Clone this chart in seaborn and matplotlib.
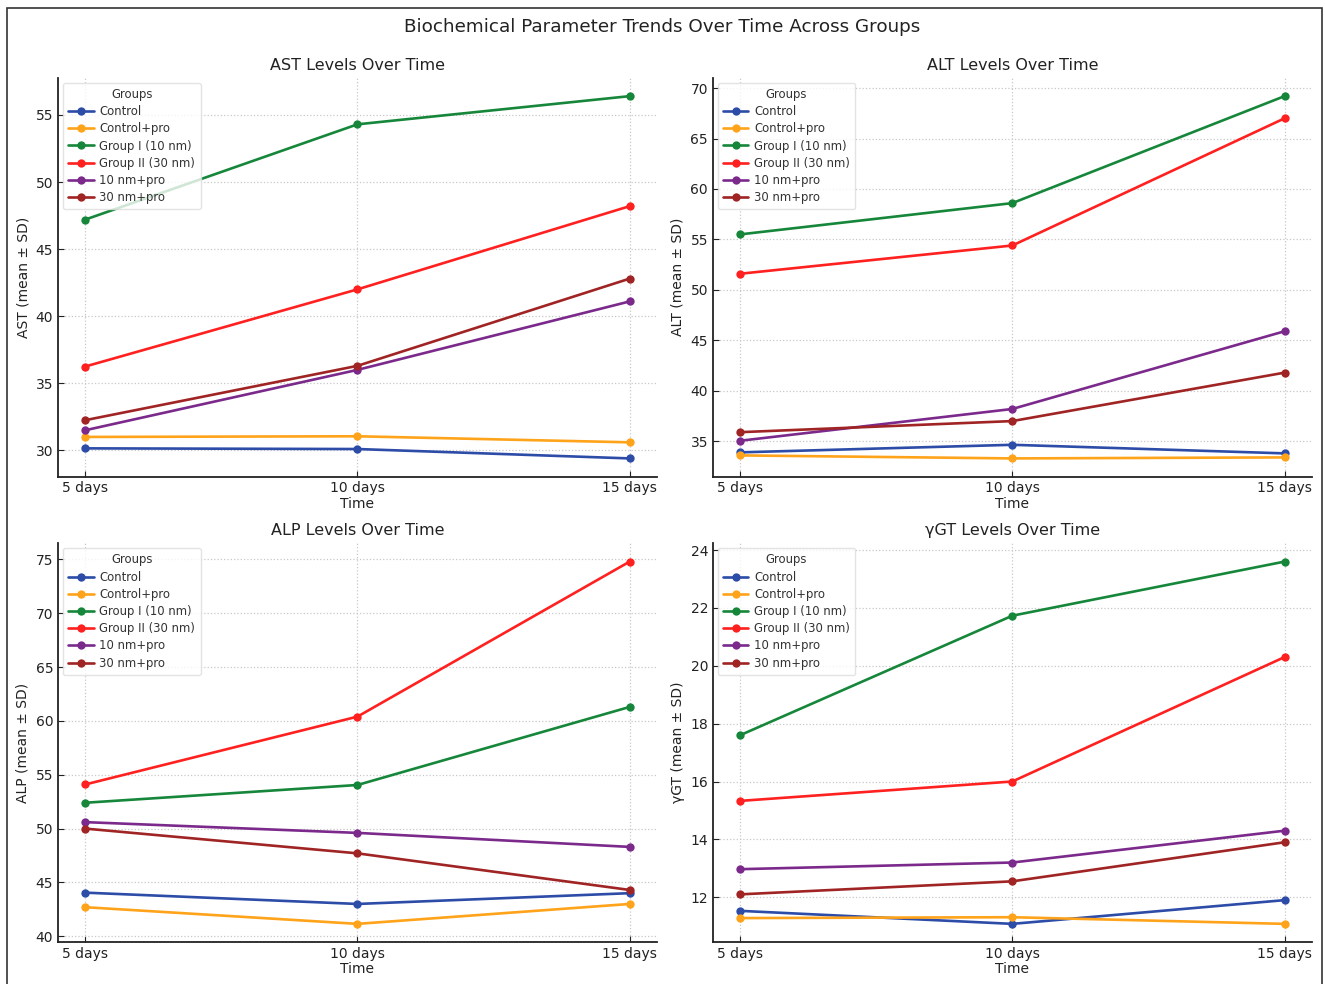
import matplotlib
matplotlib.use("Agg")
import matplotlib.pyplot as plt
import seaborn as sns
import pandas as pd
from matplotlib.patches import Rectangle

# ---- data ----
times = ["5 days", "10 days", "15 days"]
groups = ["Control", "Control+pro", "Group I (10 nm)", "Group II (30 nm)", "10 nm+pro", "30 nm+pro"]

ast_vals = {
    "Control": [30.15, 30.1, 29.4],
    "Control+pro": [31.0, 31.05, 30.6],
    "Group I (10 nm)": [47.2, 54.3, 56.4],
    "Group II (30 nm)": [36.25, 42.0, 48.2],
    "10 nm+pro": [31.5, 36.0, 41.1],
    "30 nm+pro": [32.25, 36.3, 42.8],
}
alt_vals = {
    "Control": [33.9, 34.65, 33.8],
    "Control+pro": [33.6, 33.3, 33.4],
    "Group I (10 nm)": [55.5, 58.6, 69.2],
    "Group II (30 nm)": [51.6, 54.4, 67.0],
    "10 nm+pro": [35.05, 38.2, 45.9],
    "30 nm+pro": [35.9, 37.0, 41.8],
}
alp_vals = {
    "Control": [44.05, 43.0, 44.0],
    "Control+pro": [42.7, 41.15, 43.0],
    "Group I (10 nm)": [52.4, 54.05, 61.3],
    "Group II (30 nm)": [54.1, 60.4, 74.8],
    "10 nm+pro": [50.6, 49.6, 48.3],
    "30 nm+pro": [50.0, 47.7, 44.3],
}
ggt_vals = {
    "Control": [11.53, 11.08, 11.9],
    "Control+pro": [11.28, 11.31, 11.08],
    "Group I (10 nm)": [17.6, 21.73, 23.6],
    "Group II (30 nm)": [15.33, 16.0, 20.3],
    "10 nm+pro": [12.97, 13.2, 14.3],
    "30 nm+pro": [12.1, 12.55, 13.9],
}

panels = [
    ("AST Levels Over Time", "AST (mean ± SD)", ast_vals),
    ("ALT Levels Over Time", "ALT (mean ± SD)", alt_vals),
    ("ALP Levels Over Time", "ALP (mean ± SD)", alp_vals),
    ("γGT Levels Over Time", "γGT (mean ± SD)", ggt_vals),
]

palette = {
    "Control": "#2c4ca8",
    "Control+pro": "#ffa31a",
    "Group I (10 nm)": "#16873a",
    "Group II (30 nm)": "#ff2020",
    "10 nm+pro": "#7b2a8c",
    "30 nm+pro": "#a02424",
}

sns.set_style("ticks")
plt.rcParams["font.family"] = ["DejaVu Sans"]

fig, axes = plt.subplots(2, 2, figsize=(13.25, 9.84), dpi=100)
fig.subplots_adjust(left=0.0438, right=0.990, top=0.9207, bottom=0.0427,
                    wspace=0.0935, hspace=0.168)

for ax, (title, ylabel, vals) in zip(axes.flat, panels):
    rows = []
    for g in groups:
        for t, v in zip(times, vals[g]):
            rows.append({"Time": t, "Value": v, "Group": g})
    df = pd.DataFrame(rows)
    sns.lineplot(data=df, x="Time", y="Value", hue="Group", hue_order=groups,
                 palette=palette, marker="o", markersize=6, markeredgewidth=0,
                 linewidth=1.9, ax=ax, sort=False)
    ax.set_title(title, fontsize=11.5, color="#222222")
    ax.set_xlabel("Time", fontsize=10, color="#222222", labelpad=1)
    ax.set_ylabel(ylabel, fontsize=10, color="#222222")
    ax.grid(True, linestyle=":", color="#c8c8c8", linewidth=0.9)
    ax.tick_params(direction="in", length=4, labelsize=10, colors="#222222")
    for s in ["top", "right"]:
        ax.spines[s].set_visible(False)
    for s in ["left", "bottom"]:
        ax.spines[s].set_linewidth(1.3)
        ax.spines[s].set_color("#222222")
    leg = ax.legend(title="Groups", loc="upper left", fontsize=8.4,
                    title_fontsize=8.4, frameon=True, framealpha=0.8,
                    handlelength=2.2, handletextpad=0.5, borderpad=0.45,
                    labelspacing=0.36, borderaxespad=0.4, labelcolor="#333333")
    leg.get_title().set_color("#333333")
    leg.get_frame().set_edgecolor("#dddddd")

fig.suptitle("Biochemical Parameter Trends Over Time Across Groups",
             fontsize=13.2, y=0.982, color="#222222")

fig.patches.append(Rectangle((7 / 1325, -0.01), (1322 - 7) / 1325, 1 - 8 / 984 + 0.01,
                             transform=fig.transFigure, fill=False,
                             edgecolor="#333333", linewidth=1.2))

fig.savefig("out.png", dpi=100)
